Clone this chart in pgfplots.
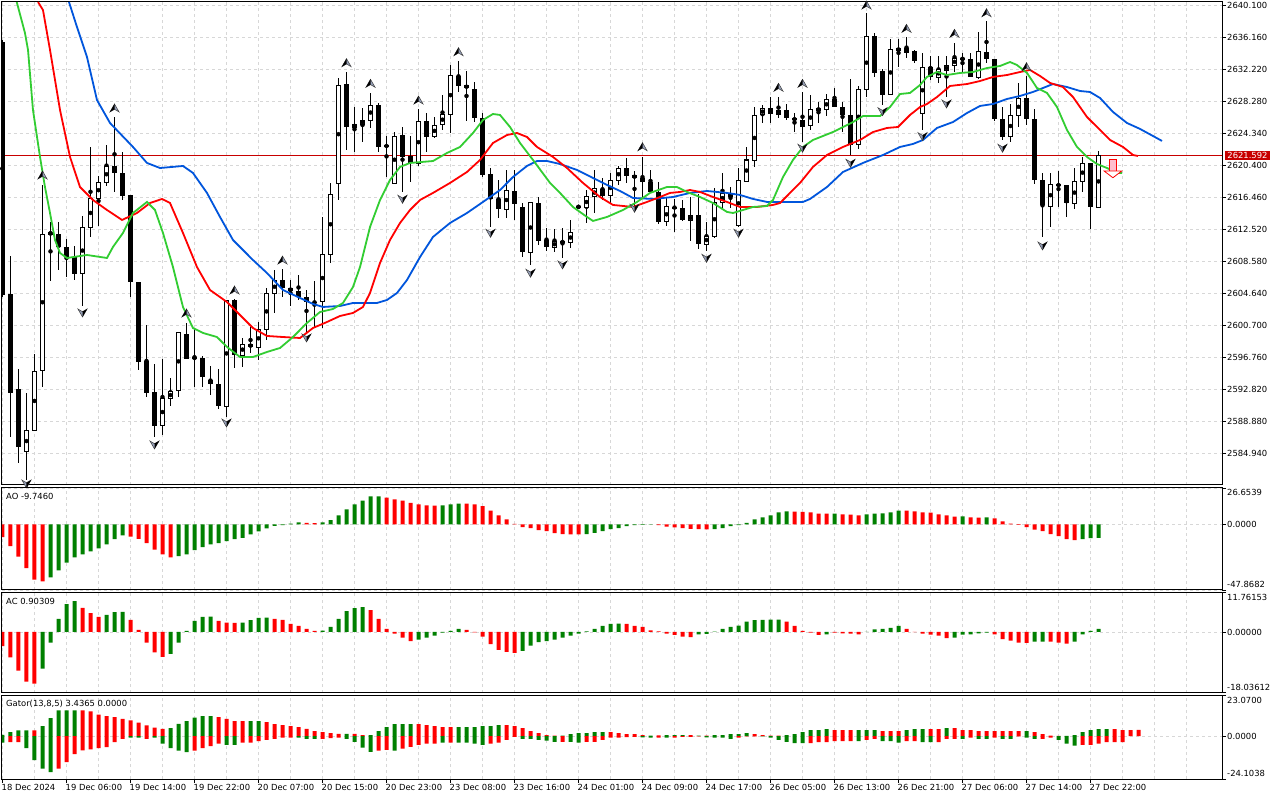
\documentclass[border=0pt]{standalone}
\usepackage{fontspec}
\setmainfont{DejaVu Sans}
\usepackage{pgfplots}
\usepackage{pgfplotstable}
\pgfplotsset{compat=1.18}

\definecolor{mtgreen}{RGB}{0,128,0}
\definecolor{mtred}{RGB}{255,0,0}
\definecolor{lips}{RGB}{50,205,50}
\definecolor{teeth}{RGB}{255,0,0}
\definecolor{jaw}{RGB}{0,85,220}
\definecolor{gridc}{RGB}{215,215,215}
\definecolor{pricered}{RGB}{200,0,0}
\definecolor{sigpink}{RGB}{255,190,205}
\definecolor{fracgray}{RGB}{150,160,185}

\newcommand\tlfont{\fontsize{8.4}{10}\selectfont}

\pgfdeclareplotmark{fup}{%
  \pgfsetlinewidth{0.5pt}%
  \pgfsetstrokecolor{black!75}%
  \pgfsetfillcolor{fracgray}%
  \pgfpathmoveto{\pgfqpoint{0pt}{4pt}}%
  \pgfpathlineto{\pgfqpoint{4.6pt}{-4pt}}%
  \pgfpathlineto{\pgfqpoint{0pt}{-1.3pt}}%
  \pgfpathlineto{\pgfqpoint{-4.6pt}{-4pt}}%
  \pgfpathclose
  \pgfusepath{fill,stroke}%
  \pgfsetfillcolor{black}%
  \pgfpathmoveto{\pgfqpoint{0pt}{4pt}}%
  \pgfpathlineto{\pgfqpoint{0pt}{-1.3pt}}%
  \pgfpathlineto{\pgfqpoint{-4.6pt}{-4pt}}%
  \pgfpathclose
  \pgfusepath{fill}%
}
\pgfdeclareplotmark{fdown}{%
  \pgfsetlinewidth{0.5pt}%
  \pgfsetstrokecolor{black!75}%
  \pgfsetfillcolor{fracgray}%
  \pgfpathmoveto{\pgfqpoint{0pt}{-4pt}}%
  \pgfpathlineto{\pgfqpoint{4.6pt}{4pt}}%
  \pgfpathlineto{\pgfqpoint{0pt}{1.3pt}}%
  \pgfpathlineto{\pgfqpoint{-4.6pt}{4pt}}%
  \pgfpathclose
  \pgfusepath{fill,stroke}%
  \pgfsetfillcolor{black}%
  \pgfpathmoveto{\pgfqpoint{0pt}{-4pt}}%
  \pgfpathlineto{\pgfqpoint{0pt}{1.3pt}}%
  \pgfpathlineto{\pgfqpoint{4.6pt}{4pt}}%
  \pgfpathclose
  \pgfusepath{fill}%
}
\pgfdeclareplotmark{sigdown}{%
  \pgfsetlinewidth{0.8pt}%
  \pgfsetstrokecolor{red}%
  \pgfsetfillcolor{sigpink}%
  \pgfpathrectangle{\pgfqpoint{-3.7pt}{-2.7pt}}{\pgfqpoint{7.4pt}{12pt}}%
  \pgfusepath{fill,stroke}%
  \pgfsetfillcolor{white}%
  \pgfpathmoveto{\pgfqpoint{-8.8pt}{-2.7pt}}%
  \pgfpathlineto{\pgfqpoint{8.8pt}{-2.7pt}}%
  \pgfpathlineto{\pgfqpoint{0pt}{-9.4pt}}%
  \pgfpathclose
  \pgfusepath{fill,stroke}%
}

\tikzset{rlab/.style={anchor=west, inner sep=0pt, font=\tlfont, xshift=5pt}}

\pgfplotsset{
 mtax/.style={
  scale only axis, width=1220pt,
  xmin=-0.0625, xmax=152.4375,
  axis line style={black, line width=1pt},
  xmajorgrids, ymajorgrids,
  major grid style={draw=gridc, dash pattern=on 3pt off 3pt, line width=0.8pt},
  xtick={0,4,...,148}, xticklabels={},
  xtick style={draw=none},
  ytick pos=right, yticklabel pos=right,
  tick align=outside, major tick length=4pt,
  ytick style={draw=black, line width=0.8pt},
  tick label style={font=\tlfont, text=black},
  yticklabel style={anchor=west, inner sep=0pt, xshift=1pt},
  clip mode=individual,
  anchor=north west,
 },
 hbar/.style={ybar, bar width=4pt, bar shift=0pt, draw=none, forget plot},
}

% ---------------- candles (k open high low close) ----------------
\pgfplotstableread{
k o h l c
3 2585.15 2592.29 2581.62 2587.69
4 2587.69 2597.13 2587.65 2595.04
5 2595.16 2617.94 2593.10 2611.87
6 2611.87 2613.42 2606.12 2612.11
10 2607.07 2614.12 2603.04 2612.68
11 2612.68 2622.65 2611.57 2616.34
12 2616.34 2619.05 2612.89 2618.27
13 2618.27 2622.86 2617.82 2620.28
20 2588.30 2596.51 2587.16 2591.68
21 2591.68 2594.14 2590.73 2592.49
22 2592.70 2599.88 2591.80 2599.75
28 2590.73 2603.78 2589.41 2603.69
30 2597.01 2599.10 2595.57 2598.36
32 2597.96 2601.11 2596.39 2600.17
33 2600.17 2605.22 2598.85 2604.60
34 2604.60 2607.47 2602.14 2606.24
40 2603.57 2614.04 2600.29 2609.41
41 2609.41 2618.15 2608.30 2616.79
42 2618.15 2631.08 2616.09 2630.25
44 2625.04 2627.58 2622.04 2625.41
45 2625.41 2627.38 2623.27 2625.94
46 2625.94 2629.23 2624.92 2627.79
49 2618.15 2624.50 2618.15 2623.97
52 2620.61 2627.26 2620.31 2625.82
54 2623.89 2626.35 2623.69 2625.33
55 2625.33 2629.02 2624.71 2626.64
56 2626.64 2632.71 2624.30 2631.36
63 2614.95 2619.79 2613.84 2617.24
66 2609.65 2615.88 2608.09 2615.76
69 2610.27 2612.48 2609.73 2611.04
71 2610.83 2613.63 2610.14 2612.11
73 2615.19 2617.32 2613.22 2616.50
74 2616.50 2619.79 2614.45 2617.53
76 2616.62 2619.38 2615.69 2618.55
77 2618.55 2620.31 2617.94 2619.99
83 2613.42 2616.50 2612.89 2615.27
86 2613.63 2616.50 2611.08 2614.16
88 2610.67 2613.42 2609.85 2611.66
89 2611.66 2617.53 2611.38 2615.81
90 2615.81 2619.38 2615.07 2616.83
92 2612.93 2619.99 2612.80 2618.43
93 2618.43 2622.65 2618.34 2621.02
94 2620.93 2627.51 2620.19 2626.56
95 2626.56 2627.79 2625.53 2627.38
97 2626.64 2628.81 2626.15 2627.17
101 2625.24 2629.02 2624.71 2627.26
102 2627.17 2628.19 2625.61 2627.30
103 2627.26 2629.14 2626.43 2628.49
107 2622.99 2630.13 2622.33 2629.72
108 2629.72 2639.08 2628.81 2636.28
111 2629.02 2635.91 2629.02 2634.56
112 2634.47 2635.91 2632.50 2634.77
115 2626.77 2634.15 2624.71 2632.43
117 2631.20 2633.82 2630.53 2632.18
118 2632.01 2633.82 2628.81 2632.68
119 2632.68 2635.46 2631.89 2633.54
120 2633.42 2634.23 2631.69 2633.54
122 2631.20 2636.81 2630.95 2634.35
126 2623.89 2627.91 2623.27 2626.52
127 2626.52 2630.46 2625.04 2628.61
131 2615.35 2619.38 2612.80 2618.02
134 2615.69 2620.07 2614.98 2618.34
135 2618.34 2621.35 2617.11 2620.61
137 2615.19 2622.12 2615.19 2621.59
}\bull

\pgfplotstableread{
k o h l c
0 2635.55 2635.79 2604.15 2604.39
1 2604.52 2609.20 2586.95 2592.37
2 2592.82 2595.28 2583.67 2585.64
7 2611.87 2613.42 2607.47 2610.27
8 2610.27 2611.25 2606.65 2609.04
9 2609.04 2610.43 2606.24 2606.98
14 2620.28 2626.35 2617.11 2619.38
15 2619.38 2621.96 2616.09 2616.62
16 2616.71 2616.71 2604.18 2606.03
17 2606.03 2606.03 2595.16 2596.18
18 2596.27 2600.70 2591.87 2592.37
19 2592.41 2595.90 2586.95 2588.30
23 2599.56 2600.91 2596.51 2596.51
24 2596.76 2600.37 2593.10 2596.51
25 2596.60 2596.88 2593.10 2594.33
26 2593.93 2595.65 2592.08 2593.40
27 2593.44 2595.28 2590.32 2590.73
29 2603.78 2603.86 2595.37 2597.01
31 2598.36 2600.49 2597.22 2597.96
35 2606.24 2607.56 2604.18 2605.22
36 2605.22 2606.24 2603.04 2604.92
37 2604.92 2606.86 2603.78 2604.11
38 2604.18 2605.01 2599.88 2603.57
39 2603.57 2606.12 2600.29 2603.41
43 2630.37 2631.89 2622.25 2625.04
47 2627.79 2628.00 2622.04 2622.65
48 2622.86 2623.97 2618.96 2622.65
50 2624.09 2625.04 2617.11 2621.42
51 2621.55 2623.97 2618.34 2620.68
53 2625.82 2626.77 2622.04 2623.89
57 2631.36 2633.21 2629.43 2630.13
58 2630.25 2631.97 2625.85 2629.84
59 2629.76 2630.66 2625.73 2626.15
60 2626.15 2626.77 2618.89 2619.17
61 2619.29 2619.99 2612.80 2616.18
62 2616.18 2618.55 2613.84 2614.95
64 2617.24 2619.79 2613.63 2615.60
65 2615.27 2615.76 2609.11 2609.65
67 2615.76 2616.42 2610.55 2611.08
68 2611.17 2612.61 2609.85 2610.27
70 2611.04 2612.61 2608.91 2610.83
72 2615.32 2615.32 2615.19 2615.19
75 2617.45 2618.76 2616.09 2616.62
78 2619.99 2621.30 2618.15 2619.08
79 2619.17 2619.66 2615.27 2618.76
80 2618.76 2621.35 2616.50 2618.34
81 2618.34 2619.79 2617.11 2617.11
82 2617.11 2618.34 2613.14 2613.42
84 2615.27 2616.18 2612.19 2615.07
85 2615.07 2616.09 2613.51 2613.63
87 2614.24 2616.79 2610.02 2610.67
91 2616.83 2617.66 2615.07 2616.50
96 2627.38 2628.81 2625.53 2626.64
98 2627.17 2627.91 2625.94 2626.15
99 2626.15 2626.77 2624.50 2625.94
100 2625.94 2629.43 2623.27 2625.12
104 2628.49 2629.84 2627.51 2627.58
105 2627.58 2628.19 2624.50 2626.56
106 2626.56 2630.99 2621.63 2622.86
109 2636.28 2636.62 2631.20 2631.77
110 2632.01 2632.18 2627.79 2629.02
113 2634.77 2636.20 2633.54 2634.19
114 2634.44 2634.56 2632.92 2633.21
116 2632.50 2633.82 2630.87 2631.20
121 2633.42 2634.23 2631.20 2631.20
123 2634.35 2638.17 2632.92 2633.42
124 2633.42 2633.42 2625.85 2626.03
125 2626.03 2627.51 2623.48 2623.89
128 2628.61 2631.36 2625.33 2626.03
129 2626.03 2627.26 2618.02 2618.55
130 2618.55 2619.38 2611.50 2615.51
132 2618.02 2619.70 2615.19 2617.82
133 2617.94 2617.94 2613.96 2615.69
136 2620.61 2620.61 2612.48 2615.27
}\bear

% ---------------- Alligator ----------------
\pgfplotstableread{
k v
1.78 2640.47
2.81 2636.65
3.19 2634.56
3.81 2627.17
4.69 2621.39
5.31 2617.69
5.94 2614.49
6.56 2611.17
7.19 2609.57
8.06 2608.95
10.56 2609.32
13.06 2608.95
13.81 2610.31
15.06 2612.03
16.31 2614.49
18.06 2615.85
19.06 2614.86
20.06 2612.03
21.31 2607.84
22.56 2602.92
23.81 2600.33
25.06 2599.72
26.81 2599.22
28.06 2598.00
29.69 2596.76
31.31 2596.76
33.06 2597.38
34.69 2597.87
36.31 2599.22
38.06 2600.95
39.69 2602.30
41.31 2602.67
42.56 2603.41
43.81 2605.38
44.69 2607.84
45.94 2612.77
47.19 2616.09
48.44 2618.56
49.69 2620.16
50.94 2620.65
53.81 2620.89
55.56 2621.88
57.19 2622.62
58.81 2624.34
60.06 2625.94
61.31 2626.68
62.19 2626.56
63.44 2625.08
64.69 2623.11
66.31 2621.02
68.44 2618.19
69.69 2616.96
71.31 2615.23
73.06 2614.00
73.81 2613.51
75.56 2614.00
77.56 2614.86
79.31 2615.85
80.94 2616.96
83.06 2617.69
84.31 2617.69
85.56 2617.08
87.19 2616.46
88.81 2615.72
90.56 2614.62
91.31 2614.49
92.56 2614.86
93.81 2615.23
95.56 2615.35
96.31 2616.09
97.56 2618.92
98.81 2621.02
100.06 2622.62
101.31 2623.48
103.81 2624.46
106.31 2625.69
107.56 2626.43
109.69 2626.43
110.94 2627.54
112.19 2629.14
113.44 2629.27
114.69 2630.25
115.56 2631.24
116.81 2631.85
118.06 2631.48
119.69 2631.73
121.31 2631.85
123.06 2632.34
124.69 2632.59
125.94 2633.08
126.81 2632.71
128.06 2631.73
129.31 2629.88
130.56 2629.27
131.81 2627.54
133.06 2624.71
134.31 2622.62
135.56 2621.39
136.81 2620.52
138.06 2620.03
139.31 2619.42
139.94 2619.42
}\lips

\pgfplotstableread{
k v
4.44 2640.47
5.06 2639.48
5.94 2634.56
7.19 2627.17
8.44 2621.39
9.69 2617.69
11.31 2616.09
13.06 2614.86
14.94 2613.63
16.81 2614.49
18.44 2615.72
19.94 2616.22
20.94 2615.72
22.56 2612.03
24.31 2607.84
25.94 2605.01
28.06 2603.53
29.69 2601.93
31.31 2600.33
33.06 2599.35
35.06 2599.22
37.19 2599.10
38.81 2600.33
40.56 2601.07
42.19 2601.81
43.81 2602.18
45.06 2602.92
45.94 2604.64
47.19 2608.34
48.44 2611.17
49.69 2613.26
50.94 2614.86
52.19 2616.09
53.81 2616.96
55.94 2618.19
58.06 2619.54
59.69 2621.02
61.31 2623.11
63.06 2624.09
64.31 2624.34
65.56 2623.85
66.81 2622.62
68.81 2621.39
70.56 2620.03
72.56 2618.19
74.69 2616.46
76.31 2615.48
78.81 2615.23
80.56 2615.85
82.19 2616.46
83.44 2616.96
84.69 2617.08
85.94 2617.32
87.19 2617.08
88.81 2616.46
90.56 2615.85
92.19 2615.23
94.31 2615.23
96.31 2615.48
97.19 2615.72
98.44 2616.96
99.69 2618.19
101.31 2620.16
103.06 2621.63
105.06 2622.62
107.19 2623.48
108.81 2624.46
110.56 2624.96
111.94 2625.08
113.44 2626.56
114.69 2627.54
115.56 2627.91
116.81 2628.77
118.44 2630.13
120.56 2630.37
122.19 2630.74
123.81 2631.24
125.56 2631.48
127.19 2631.85
128.44 2632.10
129.69 2631.36
130.94 2630.50
132.56 2630.00
133.81 2628.77
135.56 2626.31
137.19 2624.71
138.44 2623.48
140.06 2622.62
141.31 2621.63
141.94 2621.51
}\teeth

\pgfplotstableread{
k v
8.31 2640.47
9.31 2637.39
10.56 2633.70
11.81 2628.40
13.44 2625.57
16.31 2622.62
18.06 2620.65
19.69 2620.03
22.56 2620.28
23.81 2619.42
25.56 2616.96
27.19 2614.00
28.81 2611.17
31.31 2608.70
33.06 2607.10
35.06 2605.01
37.19 2604.03
38.81 2603.29
40.06 2602.92
42.19 2603.04
43.81 2603.41
46.81 2603.41
48.06 2603.78
49.31 2604.64
50.56 2606.24
52.19 2609.07
53.81 2611.54
55.94 2613.26
58.06 2614.49
60.06 2615.85
62.19 2617.32
63.81 2618.92
65.56 2620.28
66.81 2620.89
68.06 2620.89
69.69 2620.52
71.81 2619.79
73.81 2618.80
75.56 2617.94
77.19 2617.20
78.81 2616.34
81.31 2616.22
83.81 2616.46
85.94 2616.96
88.06 2617.20
90.56 2616.96
92.19 2616.71
93.81 2616.22
95.56 2615.85
98.06 2615.85
100.06 2615.85
100.94 2616.22
103.06 2617.69
105.06 2619.54
107.56 2620.65
110.06 2621.63
112.19 2622.62
113.81 2622.99
115.06 2623.48
116.81 2624.96
118.81 2625.69
120.56 2626.80
122.19 2627.67
123.81 2627.91
125.56 2628.53
127.19 2628.90
128.81 2629.39
130.06 2629.88
131.31 2630.37
133.06 2630.00
134.69 2629.51
135.94 2629.39
137.19 2628.65
138.81 2626.93
140.56 2625.57
142.19 2624.84
143.81 2623.97
144.94 2623.36
}\jawt

% ---------------- Fractals ----------------
\pgfplotstableread{
k p
5 2619.17
14 2627.42
23 2602.18
29 2605.01
35 2608.70
43 2633.00
46 2630.46
52 2628.40
57 2634.35
80 2622.65
97 2629.97
100 2630.46
108 2640.10
113 2637.23
119 2636.62
123 2639.15
128 2632.50
}\fracup

\pgfplotstableread{
k p
3 2581.12
10 2602.18
19 2585.93
28 2588.63
38 2599.10
50 2616.18
61 2611.99
66 2607.07
70 2608.09
79 2615.07
88 2608.91
92 2611.99
100 2622.46
106 2620.61
110 2626.96
115 2623.89
118 2627.91
125 2622.46
130 2610.43
}\fracdn

% ---------------- AO (k green red) ----------------
\pgfplotstableread{
k g r
0 nan -9.25
1 nan -15.8
2 nan -23.4
3 nan -31.9
4 nan -40.2
5 nan -41.6
6 -38.7 nan
7 -33.6 nan
8 -27.8 nan
9 -24.1 nan
10 -21.9 nan
11 -19.7 nan
12 -17.5 nan
13 -14.6 nan
14 -10.7 nan
15 -8.0 nan
16 nan -8.8
17 nan -10.5
18 nan -13.6
19 nan -18.3
20 nan -21.9
21 nan -24.1
22 -23.1 nan
23 -21.9 nan
24 -18.8 nan
25 -16.6 nan
26 -14.6 nan
27 -13.6 nan
28 -12.2 nan
29 -10.7 nan
30 -9.7 nan
31 -7.3 nan
32 -5.1 nan
33 -2.9 nan
34 -1.0 nan
35 -0.4 nan
36 0.7 nan
37 1.5 nan
38 nan 1.2
39 nan 1.0
40 1.5 nan
41 3.2 nan
42 6.6 nan
43 11.0 nan
44 14.6 nan
45 17.5 nan
46 20.5 nan
47 20.6 nan
48 nan 19.7
49 nan 18.3
50 nan 17.5
51 nan 15.8
52 nan 14.6
53 nan 13.9
54 nan 13.8
55 13.9 nan
56 14.6 nan
57 15.3 nan
58 nan 15.2
59 nan 14.6
60 nan 13.4
61 nan 10.2
62 nan 6.6
63 nan 3.7
64 nan 0.5
65 nan -1.9
66 nan -2.7
67 nan -4.1
68 nan -4.9
69 nan -6.3
70 nan -7.1
71 nan -7.2
72 nan -7.3
73 -7.1 nan
74 -6.1 nan
75 -4.9 nan
76 -3.4 nan
77 -2.7 nan
78 -1.2 nan
79 -0.5 nan
80 -0.2 nan
81 -0.1 nan
82 nan -0.5
83 nan -1.5
84 nan -2.2
85 nan -2.7
86 nan -3.2
87 nan -3.4
88 nan -3.5
89 -3.4 nan
90 -2.7 nan
91 -1.2 nan
92 -0.5 nan
93 1.2 nan
94 3.7 nan
95 5.1 nan
96 6.6 nan
97 8.8 nan
98 9.5 nan
99 nan 9.4
100 nan 9.3
101 nan 8.8
102 nan 8.0
103 nan 7.9
104 8.0 nan
105 nan 7.3
106 nan 7.2
107 nan 6.6
108 7.3 nan
109 8.0 nan
110 8.1 nan
111 8.8 nan
112 10.2 nan
113 nan 10.1
114 nan 9.5
115 nan 8.8
116 nan 8.7
117 nan 7.3
118 nan 6.6
119 nan 5.8
120 5.9 nan
121 nan 5.1
122 nan 5.0
123 5.1 nan
124 nan 4.4
125 nan 2.2
126 nan 0.7
127 nan -0.2
128 nan -1.9
129 nan -3.7
130 nan -4.9
131 nan -7.1
132 nan -8.5
133 nan -10.7
134 nan -11.4
135 -10.7 nan
136 -10.0 nan
137 -9.746 nan
}\ao

% ---------------- AC (k green red) ----------------
\pgfplotstableread{
k g r
0 nan -4.2
1 nan -7.6
2 nan -11.5
3 nan -14.8
4 nan -15.4
5 -10.9 nan
6 -3.2 nan
7 3.9 nan
8 8.3 nan
9 9.2 nan
10 nan 7.2
11 nan 5.6
12 nan 4.5
13 5.1 nan
14 5.9 nan
15 6.0 nan
16 nan 3.6
17 nan 0.6
18 nan -3.2
19 nan -6.1
20 nan -7.4
21 -6.5 nan
22 -3.2 nan
23 0.3 nan
24 3.3 nan
25 4.5 nan
26 4.6 nan
27 nan 3.3
28 nan 2.8
29 nan 2.7
30 2.8 nan
31 3.5 nan
32 4.2 nan
33 4.3 nan
34 nan 3.9
35 nan 3.6
36 nan 2.4
37 nan 1.8
38 nan 0.9
39 nan 0.3
40 0.4 nan
41 1.5 nan
42 3.9 nan
43 6.2 nan
44 7.1 nan
45 7.4 nan
46 nan 6.5
47 nan 3.9
48 nan 0.9
49 nan -0.5
50 nan -1.7
51 nan -2.7
52 -2.3 nan
53 -1.7 nan
54 -1.1 nan
55 -0.2 nan
56 0.3 nan
57 0.9 nan
58 nan 0.6
59 nan -0.1
60 nan -1.4
61 nan -3.6
62 nan -5.3
63 nan -5.9
64 nan -6.2
65 -5.6 nan
66 -4.1 nan
67 -3.0 nan
68 -2.7 nan
69 -2.3 nan
70 -1.7 nan
71 -1.1 nan
72 -0.5 nan
73 0.2 nan
74 0.9 nan
75 1.8 nan
76 2.4 nan
77 2.45 nan
78 nan 2.4
79 nan 1.8
80 nan 1.5
81 nan 0.5
82 nan 0.2
83 nan -0.5
84 nan -0.9
85 nan -1.4
86 nan -1.5
87 -0.7 nan
88 -0.6 nan
89 0.1 nan
90 0.9 nan
91 1.5 nan
92 1.9 nan
93 3.1 nan
94 3.5 nan
95 3.6 nan
96 3.65 nan
97 3.7 nan
98 nan 3.1
99 nan 1.8
100 nan 0.3
101 nan -0.2
102 nan -0.85
103 -0.75 nan
104 nan -0.2
105 nan -0.45
106 nan -0.5
107 nan -0.7
108 0.05 nan
109 0.8 nan
110 0.9 nan
111 1.2 nan
112 1.8 nan
113 nan 0.9
114 nan -0.05
115 nan -0.5
116 nan -0.8
117 nan -1.1
118 nan -1.8
119 -1.7 nan
120 -0.8 nan
121 -0.7 nan
122 -0.4 nan
123 -0.2 nan
124 nan -0.7
125 nan -2.1
126 nan -2.6
127 nan -3.2
128 nan -3.25
129 -2.9 nan
130 -2.85 nan
131 nan -2.9
132 nan -3.2
133 nan -3.5
134 -2.9 nan
135 -0.7 nan
136 0.3 nan
137 0.903 nan
}\ac

% ---------------- Gator (k upGreen upRed downGreen downRed) ----------------
\pgfplotstableread{
k ug ur dg dr
0 0.7 nan -3.7 nan
1 2.2 nan nan -3.4
2 3.2 nan nan -3.4
3 3.2 nan -6.7 nan
4 nan 3.2 -13.5 nan
5 5.6 nan -18.3 nan
6 10.1 nan -20.2 nan
7 14.4 nan nan -18.3
8 14.4 nan nan -14.6
9 14.4 nan nan -10.1
10 nan 14.4 nan -8.0
11 nan 13.9 nan -7.5
12 nan 12.0 nan -6.7
13 nan 11.2 nan -6.2
14 nan 10.7 nan -3.4
15 nan 9.7 nan -1.5
16 nan 8.8 -0.9 nan
17 nan 7.5 -0.9 nan
18 nan 6.0 nan -1.5
19 nan 4.7 -0.9 nan
20 nan 4.1 -4.3 nan
21 4.5 nan -6.7 nan
22 6.9 nan -8.2 nan
23 8.4 nan -9.0 nan
24 10.3 nan nan -8.2
25 11.2 nan nan -6.7
26 11.2 nan nan -5.6
27 nan 10.7 nan -4.3
28 nan 9.7 -4.9 nan
29 nan 8.4 -4.9 nan
30 nan 8.4 nan -3.7
31 8.4 nan nan -3.7
32 8.4 nan nan -2.8
33 nan 7.9 nan -2.1
34 nan 6.7 nan -1.5
35 nan 6.2 nan -0.9
36 nan 5.6 nan -0.9
37 nan 5.1 -0.9 nan
38 nan 4.1 -1.5 nan
39 nan 2.8 -1.5 nan
40 nan 2.2 nan -1.5
41 nan 1.7 nan -1.1
42 nan 1.3 nan -0.9
43 1.3 nan -1.5 nan
44 nan 1.3 -3.2 nan
45 nan 0.6 -6.5 nan
46 0.6 nan -8.8 nan
47 2.8 nan nan -8.2
48 5.1 nan nan -7.7
49 6.7 nan -8.2 nan
50 6.7 nan nan -7.1
51 6.7 nan nan -6.0
52 nan 6.7 nan -4.9
53 nan 6.2 nan -4.3
54 nan 5.6 nan -4.3
55 nan 5.1 -3.7 nan
56 nan 5.1 nan -3.7
57 5.1 nan -3.7 nan
58 5.1 nan -3.7 nan
59 5.1 nan -4.3 nan
60 5.6 nan -4.9 nan
61 5.6 nan nan -4.3
62 6.2 nan nan -3.7
63 nan 6.2 nan -2.1
64 nan 5.6 nan -0.4
65 nan 4.5 -1.5 nan
66 nan 2.8 -1.5 nan
67 nan 1.7 -2.1 nan
68 nan 0.6 -2.6 nan
69 nan 0.2 -3.2 nan
70 0.2 nan nan -3.2
71 1.1 nan -3.2 nan
72 1.7 nan -3.7 nan
73 1.7 nan nan -3.2
74 2.2 nan nan -3.2
75 2.2 nan nan -2.1
76 nan 2.2 nan -0.9
77 nan 1.7 nan -0.9
78 nan 1.1 nan -0.6
79 nan 1.1 nan -0.4
80 nan 0.6 -0.7 nan
81 0.2 nan -0.9 nan
82 nan 0.4 nan -0.9
83 0.6 nan -0.9 nan
84 0.6 nan nan -0.9
85 0.6 nan nan -0.4
86 nan 0.6 nan -0.4
87 0.2 nan nan -0.2
88 nan 0.2 -0.7 nan
89 0.6 nan -0.9 nan
90 0.6 nan -0.9 nan
91 1.1 nan -1.5 nan
92 1.1 nan nan -0.9
93 1.7 nan nan -0.2
94 nan 1.1 nan -0.2
95 nan 0.6 -0.2 nan
96 nan 0.2 -0.9 nan
97 nan 0.2 -2.1 nan
98 0.6 nan -3.2 nan
99 1.1 nan -3.9 nan
100 2.2 nan -3.9 nan
101 3.4 nan nan -3.9
102 3.4 nan nan -3.4
103 3.9 nan nan -3.4
104 nan 3.4 nan -2.8
105 nan 3.4 nan -2.8
106 nan 3.4 nan -2.8
107 3.4 nan -2.8 nan
108 3.4 nan nan -2.1
109 3.4 nan nan -1.5
110 nan 2.8 -2.8 nan
111 nan 2.8 -2.8 nan
112 nan 2.8 -3.7 nan
113 3.4 nan nan -2.8
114 3.9 nan nan -2.8
115 3.9 nan -3.4 nan
116 nan 3.9 -3.4 nan
117 nan 3.9 nan -3.4
118 4.5 nan nan -1.5
119 nan 4.5 nan -1.5
120 nan 3.4 -1.5 nan
121 nan 3.4 nan -0.9
122 nan 2.8 -1.5 nan
123 nan 2.8 -1.5 nan
124 nan 2.8 nan -0.9
125 nan 2.8 -1.5 nan
126 nan 2.8 -1.5 nan
127 nan 2.8 nan -0.2
128 2.8 nan -0.9 nan
129 nan 2.2 -1.5 nan
130 nan 1.1 nan -1.5
131 nan 0.2 nan -0.9
132 nan 0.1 -2.1 nan
133 0.1 nan -4.3 nan
134 0.6 nan -5.4 nan
135 2.2 nan nan -4.9
136 3.4 nan nan -4.9
137 3.9 nan nan -4.3
138 3.9 nan nan -3.4
139 nan 3.9 nan -3.4
140 nan 3.4 nan -3.4
141 nan 3.4 nan nan
142 nan 3.4365 nan nan
}\gator

\begin{document}
\begin{tikzpicture}
\fill[white] (0pt,0pt) rectangle (1280pt,800pt);

% ================= MAIN PRICE PANEL =================
\begin{axis}[mtax, name=main, at={(2pt,798pt)}, height=483pt,
  ymin=2581.0, ymax=2640.47,
  ytick={2584.94,2588.88,2592.82,2596.76,2600.70,2604.64,2608.58,2612.52,2616.46,2620.40,2624.34,2628.28,2632.22,2636.16,2640.10},
  yticklabels={2584.940,2588.880,2592.820,2596.760,2600.700,2604.640,2608.580,2612.520,2616.460,2620.400,2624.340,2628.280,2632.220,2636.160,2640.100},
]
\addplot[pricered, line width=0.8pt, forget plot] coordinates {(-1,2621.592) (153,2621.592)};
\addplot[only marks, mark=none, forget plot,
  error bars/.cd, y dir=both, y explicit, error mark=none,
  error bar style={draw=black, line width=1pt}]
  table[x=k, y expr={(\thisrow{h}+\thisrow{l})/2}, y error expr={(\thisrow{h}-\thisrow{l})/2}] {\bear};
\addplot[only marks, mark=none, forget plot,
  error bars/.cd, y dir=both, y explicit, error mark=none,
  error bar style={draw=black, line width=1pt}]
  table[x=k, y expr={(\thisrow{h}+\thisrow{l})/2}, y error expr={(\thisrow{h}-\thisrow{l})/2}] {\bull};
\addplot[only marks, mark=none, forget plot,
  error bars/.cd, y dir=both, y explicit, error mark=none,
  error bar style={draw=black, line width=5pt}]
  table[x=k, y expr={(\thisrow{o}+\thisrow{c})/2}, y error expr={max(abs(\thisrow{c}-\thisrow{o})/2,0.062)}] {\bear};
\addplot[only marks, mark=none, forget plot,
  error bars/.cd, y dir=both, y explicit, error mark=none,
  error bar style={draw=black, line width=5pt}]
  table[x=k, y expr={(\thisrow{o}+\thisrow{c})/2}, y error expr={max(abs(\thisrow{c}-\thisrow{o})/2+0.062,0.062)}] {\bull};
\addplot[only marks, mark=none, forget plot,
  error bars/.cd, y dir=both, y explicit, error mark=none,
  error bar style={draw=white, line width=3pt}]
  table[x=k, y expr={(\thisrow{o}+\thisrow{c})/2}, y error expr={max(abs(\thisrow{c}-\thisrow{o})/2-0.062,0)}] {\bull};
\addplot[jaw, line width=1.8pt, forget plot] table[x=k,y=v] {\jawt};
\addplot[teeth, line width=1.8pt, forget plot] table[x=k,y=v] {\teeth};
\addplot[lips, line width=1.8pt, forget plot] table[x=k,y=v] {\lips};
\addplot[only marks, mark=fup, forget plot] table[x=k,y=p] {\fracup};
\addplot[only marks, mark=fdown, forget plot] table[x=k,y=p] {\fracdn};
\addplot[only marks, mark=sigdown, forget plot] coordinates {(138.8,2619.99)};
\node[fill=pricered, text=white, anchor=west, inner xsep=2.2pt, inner ysep=1.6pt, font=\tlfont, xshift=3pt] at (axis cs:152.4375,2621.592) {2621.592};
\end{axis}

% ================= AO =================
\begin{axis}[mtax, name=ao, at={(main.south west)}, yshift=-3pt, height=102pt,
  ymin=-47.8682, ymax=26.6539,
  ytick={-47.8682,0,26.6539}, yticklabels={,0.0000,},
]
\addplot[hbar, fill=mtgreen] table[x=k,y=g] {\ao};
\addplot[hbar, fill=mtred] table[x=k,y=r] {\ao};
\node[anchor=west, inner sep=0pt, font=\tlfont, xshift=4pt, yshift=-8.7pt] at (rel axis cs:0,1) {AO -9.7460};
\node[rlab, yshift=-4.5pt] at (rel axis cs:1,1) {26.6539};
\node[rlab, yshift=5.5pt] at (rel axis cs:1,0) {-47.8682};
\end{axis}

% ================= AC =================
\begin{axis}[mtax, name=acax, at={(ao.south west)}, yshift=-2.5pt, height=100pt,
  ymin=-18.03612, ymax=11.76153,
  ytick={-18.03612,0,11.76153}, yticklabels={,0.00000,},
]
\addplot[hbar, fill=mtgreen] table[x=k,y=g] {\ac};
\addplot[hbar, fill=mtred] table[x=k,y=r] {\ac};
\node[anchor=west, inner sep=0pt, font=\tlfont, xshift=4pt, yshift=-9.2pt] at (rel axis cs:0,1) {AC 0.90309};
\node[rlab, yshift=-5pt] at (rel axis cs:1,1) {11.76153};
\node[rlab, yshift=5.3pt] at (rel axis cs:1,0) {-18.03612};
\end{axis}

% ================= Gator =================
\begin{axis}[mtax, name=gt, at={(acax.south west)}, yshift=-2.5pt, height=84pt,
  ymin=-24.1038, ymax=23.07,
  ytick={-24.1038,0,23.07}, yticklabels={,0.0000,},
  xtick={0,8,...,136},
  xticklabels={18 Dec 2024,19 Dec 06:00,19 Dec 14:00,19 Dec 22:00,20 Dec 07:00,20 Dec 15:00,20 Dec 23:00,23 Dec 08:00,23 Dec 16:00,24 Dec 01:00,24 Dec 09:00,24 Dec 17:00,26 Dec 05:00,26 Dec 13:00,26 Dec 21:00,27 Dec 06:00,27 Dec 14:00,27 Dec 22:00},
  xtick style={draw=black, line width=0.8pt},
  xtick pos=bottom,
  minor xtick={4,12,...,140,144,148},
  xminorgrids, minor x tick style={draw=none},
  minor grid style={draw=gridc, dash pattern=on 3pt off 3pt, line width=0.8pt},
  xticklabel style={anchor=north west, inner sep=0pt, xshift=-1pt, yshift=-1pt},
]
\addplot[hbar, fill=mtgreen] table[x=k,y=ug] {\gator};
\addplot[hbar, fill=mtred] table[x=k,y=ur] {\gator};
\addplot[hbar, fill=mtgreen] table[x=k,y=dg] {\gator};
\addplot[hbar, fill=mtred] table[x=k,y=dr] {\gator};
\node[anchor=west, inner sep=0pt, font=\tlfont, xshift=4pt, yshift=-9.3pt] at (rel axis cs:0,1) {Gator(13,8,5) 3.4365 0.0000};
\node[rlab, yshift=-5.5pt] at (rel axis cs:1,1) {23.0700};
\node[rlab, yshift=5.5pt] at (rel axis cs:1,0) {-24.1038};
\end{axis}
\pgfresetboundingbox
\useasboundingbox (0pt,0pt) rectangle (1280pt,800pt);
\end{tikzpicture}
\end{document}
